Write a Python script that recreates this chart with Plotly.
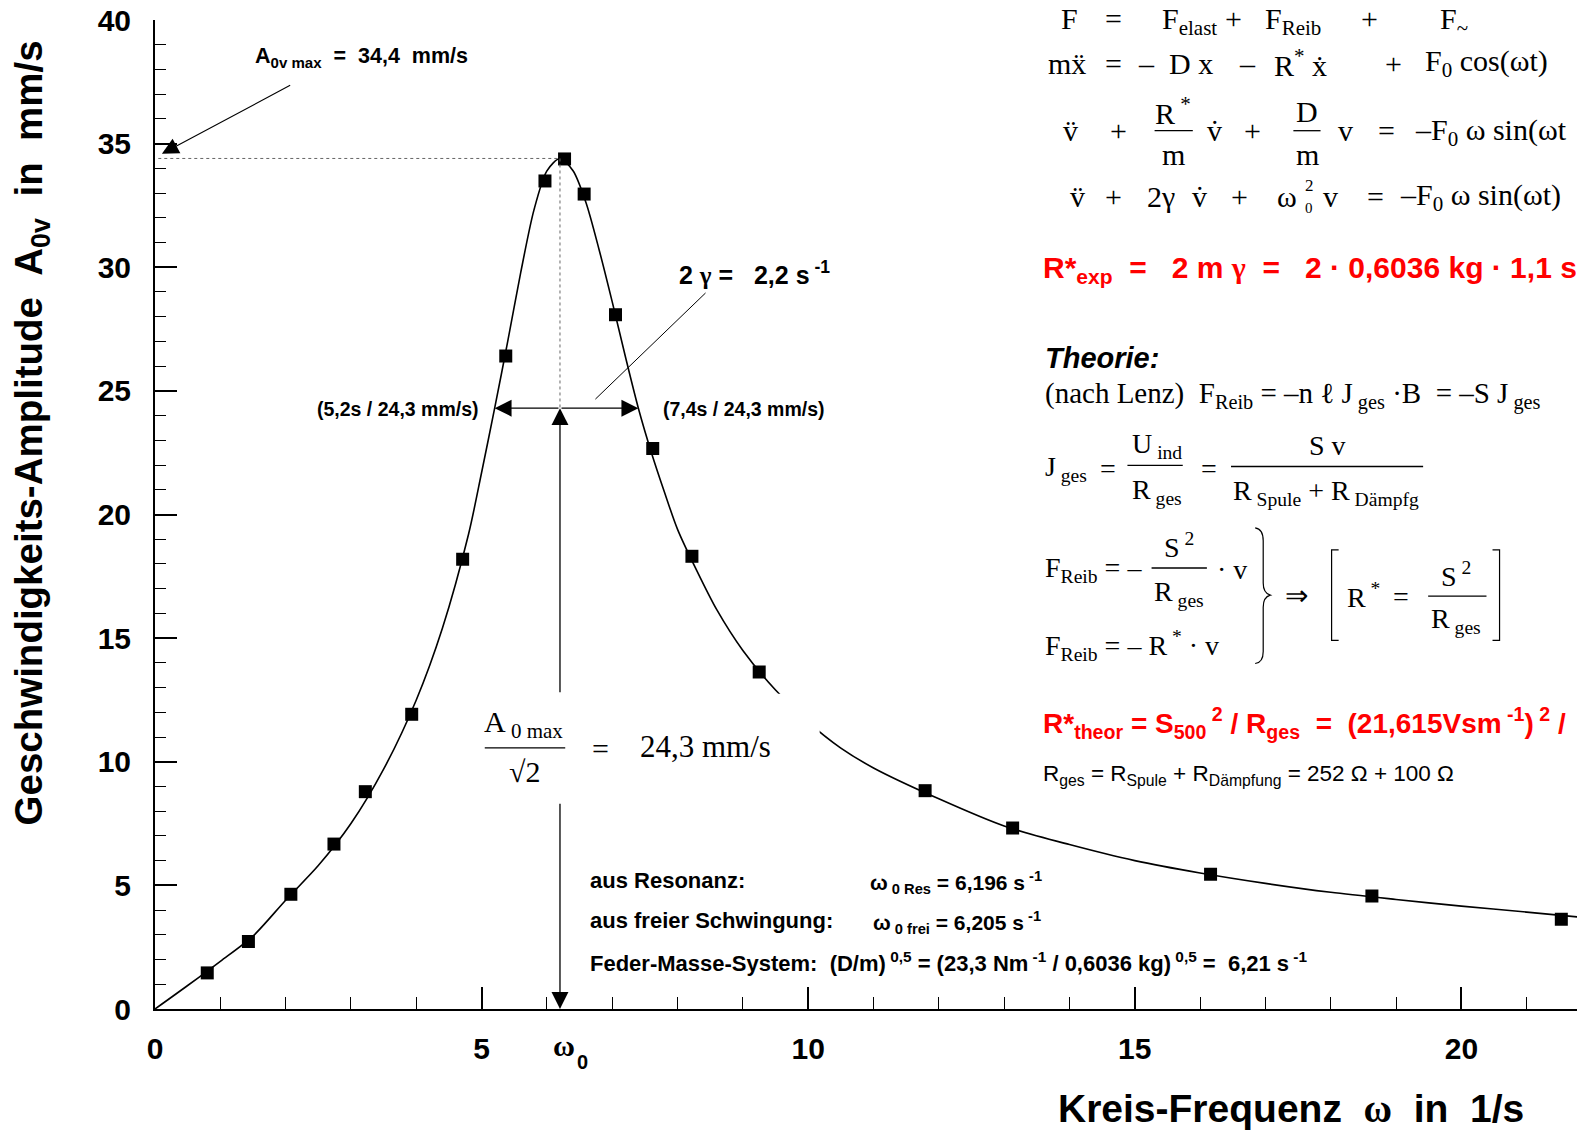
import plotly.graph_objects as go

# ---------------- data ----------------
omega_meas = [0.80, 1.43, 2.08, 2.74, 3.22, 3.93, 4.71, 5.37, 5.97, 6.27,
              6.57, 7.05, 7.62, 8.22, 9.25, 11.79, 13.13, 16.16, 18.63, 21.53]
A_meas = [1.46, 2.73, 4.64, 6.67, 8.79, 11.92, 18.19, 26.41, 33.49, 34.38,
          32.96, 28.08, 22.67, 18.31, 13.63, 8.83, 7.32, 5.45, 4.57, 3.63]

omega_fit = [0, 0.5, 1.0, 1.5, 2.0, 2.5, 3.0, 3.5, 4.0, 4.4, 4.8, 5.0, 5.2, 5.4,
             5.6, 5.8, 6.0, 6.2, 6.4, 6.6, 6.8, 7.0, 7.2, 7.4, 7.6, 7.8, 8.0,
             8.3, 8.6, 9.0, 9.5, 10.0, 10.5, 11.0, 12.0, 13.0, 14.0, 15.0, 16.0,
             17.0, 18.0, 19.0, 20.0, 21.0, 21.8]
A_fit = [0, 0.95, 1.93, 2.95, 4.4, 5.8, 7.5, 9.7, 12.5, 15.4, 19.2, 21.7, 24.3, 27.0,
         29.8, 32.3, 33.9, 34.4, 33.9, 32.6, 30.7, 28.6, 26.4, 24.3, 22.5, 20.9, 19.4,
         17.7, 16.15, 14.5, 12.9, 11.6, 10.55, 9.75, 8.5, 7.4, 6.65, 6.0, 5.5,
         5.08, 4.72, 4.43, 4.16, 3.92, 3.72]

omega0 = 6.2
A_max = 34.4
A_half = 24.3
omega_left, omega_right = 5.2, 7.4

x_major = 5
y_major = 5

# ---------------- geometry helpers ----------------
W_FIG, H_FIG = 1577, 1130
L, R, T, B = 155, 0, 20, 121
PW = W_FIG - L - R
PH = H_FIG - T - B
X_MAX = 21.77
Y_MAX = 40
SX = 1577 / 1568
SY = 1130 / 1124


def PX(dx):
    return (dx * SX - L) / PW


def PY(dy):
    return (H_FIG - B - dy * SY) / PH


def DX(dx):
    return PX(dx) * X_MAX


def DY(dy):
    return PY(dy) * Y_MAX


SANS = "Liberation Sans"
SERIF = "Liberation Serif"
NB = "\u00a0"
GAMMA = '<span style="font-family:Liberation Serif">γ</span>'

annotations = []
shapes = []


def txt(dx, dy, s, size, family=SANS, color="black", xanchor="left",
        bold=False, italic=False, textangle=0, yanchor="middle"):
    if bold:
        s = "<b>" + s + "</b>"
    if italic:
        s = "<i>" + s + "</i>"
    annotations.append(dict(x=PX(dx), y=PY(dy), xref="paper", yref="paper",
                            text=s, showarrow=False, xanchor=xanchor,
                            yanchor=yanchor, textangle=textangle,
                            font=dict(family=family, size=size, color=color)))


def bar(dx0, dx1, dy, width=1.3):
    shapes.append(dict(type="line", xref="paper", yref="paper",
                       x0=PX(dx0), x1=PX(dx1), y0=PY(dy), y1=PY(dy),
                       line=dict(color="black", width=width)))


def path(points, cmds, width=1.3):
    s = ""
    i = 0
    for c in cmds:
        if c in "ML":
            x, y = points[i]
            s += f"{c} {PX(x)},{PY(y)} "
            i += 1
        elif c == "Q":
            (x1, y1), (x2, y2) = points[i], points[i + 1]
            s += f"Q {PX(x1)},{PY(y1)} {PX(x2)},{PY(y2)} "
            i += 2
    shapes.append(dict(type="path", xref="paper", yref="paper", path=s.strip(),
                       line=dict(color="black", width=width)))


def arrow(x, y, ax, ay, head=2, width=1.3, size=2.6):
    annotations.append(dict(x=x, y=y, ax=ax, ay=ay, xref="x", yref="y",
                            axref="x", ayref="y", text="", showarrow=True,
                            arrowhead=head, arrowwidth=width, arrowsize=size,
                            arrowcolor="black", standoff=0, startstandoff=0))


# ---------------- figure ----------------
fig = go.Figure()
fig.add_trace(go.Scatter(x=omega_fit, y=A_fit, mode="lines",
                         line=dict(color="black", width=1.6, shape="spline", smoothing=0.8),
                         hoverinfo="skip", showlegend=False))
fig.add_trace(go.Scatter(x=omega_meas, y=A_meas, mode="markers",
                         marker=dict(symbol="square", size=13, color="black"),
                         showlegend=False))

# dotted guide lines
shapes.append(dict(type="line", xref="x", yref="y", x0=0.05, x1=omega0, y0=A_max, y1=A_max,
                   line=dict(color="#666666", width=1, dash="dot")))
shapes.append(dict(type="line", xref="x", yref="y", x0=omega0, x1=omega0, y0=A_max, y1=A_half,
                   line=dict(color="#666666", width=1, dash="dot")))
# white box behind the A0max/sqrt2 formula (hides the curve there)
shapes.append(dict(type="rect", xref="x", yref="y", x0=DX(470), x1=DX(815), y0=DY(798), y1=DY(690),
                   fillcolor="white", line=dict(width=0), layer="above"))

# arrows
arrow(omega_left, A_half, omega0, A_half)
arrow(omega_right, A_half, omega0, A_half)
arrow(omega0, A_half, omega0, DY(690))
arrow(omega0, 0, omega0, DY(798))
arrow(DX(161), DY(153), DX(290), DY(84), width=1.1, size=3.0)
arrow(DX(592), DY(397), DX(703), DY(290), head=0, width=1)

# ---- annotations in the plot ----
txt(252, 57, f"A<sub>0v max</sub>{NB}{NB}={NB}{NB}34,4{NB}{NB}mm/s", 21.5, bold=True)
txt(673, 272, f"2{NB}{GAMMA}{NB}={NB}{NB}{NB}2,2{NB}s<sup>{NB}-1</sup>", 25, bold=True)
txt(478, 407, "(5,2s / 24,3 mm/s)", 19.5, bold=True, xanchor="right")
txt(657, 407, "(7,4s / 24,3 mm/s)", 19.5, bold=True)

txt(521, 720, f"A<sub>{NB}0 max</sub>", 30, family=SERIF, xanchor="center")
bar(482, 562, 744)
txt(522, 767, "√2", 30, family=SERIF, xanchor="center")
txt(597, 745, "=", 30, family=SERIF, xanchor="center")
txt(634, 743, "24,3 mm/s", 31, family=SERIF)

txt(585, 876, "aus Resonanz:", 22, bold=True)
txt(863, 878, f"ω<sub>{NB}0 Res</sub> = 6,196 s<sup>{NB}-1</sup>", 21, bold=True)
txt(585, 916, "aus freier Schwingung:", 22, bold=True)
txt(866, 918, f"ω<sub>{NB}0 frei</sub> = 6,205 s<sup>{NB}-1</sup>", 21, bold=True)
txt(585, 957, f"Feder-Masse-System:{NB}{NB}(D/m)<sup>{NB}0,5</sup> = (23,3 Nm<sup>{NB}-1</sup> / 0,6036 kg)<sup>{NB}0,5</sup> ={NB}{NB}6,21 s<sup>{NB}-1</sup>", 22, bold=True)

# ---- equations top right ----
EQ = 30
for xx, s in [(1053, "F"), (1097, "="), (1153, "F<sub>elast</sub>"), (1216, "+"),
              (1256, "F<sub>Reib</sub>"), (1351, "+"), (1430, "F<sub>~</sub>")]:
    txt(xx, 0, s, EQ, family=SERIF, yanchor="top")

txt(1040, 63, "m\u1e8d", EQ, family=SERIF)
txt(1097, 63, "=", EQ, family=SERIF)
txt(1130, 63, f"–{NB}{NB}D{NB}x", EQ, family=SERIF)
txt(1230, 63, "–", EQ, family=SERIF)
txt(1265, 63, f"R<sup>*</sup>{NB}\u1e8b", EQ, family=SERIF)
txt(1375, 63, "+", EQ, family=SERIF)
txt(1415, 63, "F<sub>0</sub> cos(ωt)", EQ, family=SERIF)

txt(1055, 130, "v\u0308", EQ, family=SERIF)
txt(1102, 130, "+", EQ, family=SERIF)
txt(1166, 110, f"R<sup>{NB}*</sup>", EQ, family=SERIF, xanchor="center")
bar(1148, 1186, 130)
txt(1167, 154, "m", EQ, family=SERIF, xanchor="center")
txt(1198, 130, "v\u0307", EQ, family=SERIF)
txt(1235, 130, "+", EQ, family=SERIF)
txt(1300, 111, "D", EQ, family=SERIF, xanchor="center")
bar(1286, 1313, 130)
txt(1300, 154, "m", EQ, family=SERIF, xanchor="center")
txt(1328, 130, "v", EQ, family=SERIF)
txt(1368, 130, "=", EQ, family=SERIF)
txt(1405, 131, "–F<sub>0</sub> ω sin(ωt", EQ, family=SERIF)

txt(1062, 195, "v\u0308", EQ, family=SERIF)
txt(1097, 195, "+", EQ, family=SERIF)
txt(1138, 195, "2γ", EQ, family=SERIF)
txt(1183, 195, "v\u0307", EQ, family=SERIF)
txt(1222, 195, "+", EQ, family=SERIF)
txt(1268, 195, "ω", EQ, family=SERIF)
txt(1296, 185, "2", 17, family=SERIF)
txt(1296, 207, "0", 15, family=SERIF)
txt(1313, 195, "v", EQ, family=SERIF)
txt(1357, 195, "=", EQ, family=SERIF)
txt(1390, 196, "–F<sub>0</sub> ω sin(ωt)", EQ, family=SERIF)

txt(1035, 268, f"R*<sub>exp</sub>{NB}{NB}={NB}{NB}{NB}2 m {GAMMA}{NB}{NB}={NB}{NB}{NB}2 · 0,6036 kg · 1,1 s",
    30, bold=True, color="#ff0000")

txt(1037, 356, "Theorie:", 29, bold=True, italic=True)
txt(1037, 393, f"(nach Lenz){NB}{NB}F<sub>Reib</sub> = –n ℓ J<sub>{NB}ges</sub> ·B{NB}{NB}= –S J<sub>{NB}ges</sub>",
    29, family=SERIF)

txt(1037, 466, f"J<sub>{NB}ges</sub>", 28, family=SERIF)
txt(1092, 466, "=", 28, family=SERIF)
txt(1150, 443, f"U<sub>{NB}ind</sub>", 28, family=SERIF, xanchor="center")
bar(1121, 1176, 463)
txt(1150, 489, f"R<sub>{NB}ges</sub>", 28, family=SERIF, xanchor="center")
txt(1192, 466, "=", 28, family=SERIF)
txt(1320, 443, "S v", 28, family=SERIF, xanchor="center")
bar(1224, 1415, 464)
txt(1318, 490, f"R<sub>{NB}Spule</sub> + R<sub>{NB}Dämpfg</sub>", 28, family=SERIF, xanchor="center")

txt(1037, 566, "F<sub>Reib</sub> = –", 28, family=SERIF)
txt(1172, 543, f"S<sup>{NB}2</sup>", 28, family=SERIF, xanchor="center")
bar(1145, 1200, 565)
txt(1172, 590, f"R<sub>{NB}ges</sub>", 28, family=SERIF, xanchor="center")
txt(1208, 566, "· v", 28, family=SERIF)
txt(1037, 642, f"F<sub>Reib</sub> = – R<sup>{NB}*</sup> · v", 28, family=SERIF)

path([(1248, 525), (1256, 526), (1256, 538), (1256, 580), (1256, 590), (1263, 592),
      (1256, 594), (1256, 604), (1256, 648), (1256, 659), (1248, 660)],
     ["M", "Q", "L", "Q", "Q", "L", "Q"], width=1.2)
txt(1276, 592, "⇒", 28, family=SERIF)
path([(1331, 547), (1324, 547), (1324, 637), (1331, 637)], ["M", "L", "L", "L"], width=1.2)
txt(1337, 592, f"R<sup>{NB}*</sup>", 28, family=SERIF)
txt(1383, 593, "=", 28, family=SERIF)
txt(1448, 571, f"S<sup>{NB}2</sup>", 28, family=SERIF, xanchor="center")
bar(1420, 1478, 593)
txt(1448, 617, f"R<sub>{NB}ges</sub>", 28, family=SERIF, xanchor="center")
path([(1484, 547), (1491, 547), (1491, 637), (1484, 637)], ["M", "L", "L", "L"], width=1.2)

txt(1035, 719, f"R*<sub>theor</sub> = S<sub>500</sub><sup>{NB}2</sup> / R<sub>ges</sub>{NB}{NB}={NB}{NB}(21,615Vsm<sup>{NB}-1</sup>)<sup>{NB}2</sup> /",
    28, bold=True, color="#ff0000")
txt(1035, 771, "R<sub>ges</sub> = R<sub>Spule</sub> + R<sub>Dämpfung</sub> = 252 Ω + 100 Ω", 22.5)

# axis titles
txt(31, 431, f"Geschwindigkeits-Amplitude{NB}{NB}A<sub>0v</sub>{NB}{NB}in{NB}{NB}mm/s", 38.5,
    bold=True, xanchor="center", textangle=-90)
txt(1284, 1103, f"Kreis-Frequenz{NB}{NB}<span style=\"font-family:Liberation Serif\">ω</span>{NB}{NB}in{NB}{NB}1/s",
    39, bold=True, xanchor="center")
# omega_0 label on x axis
txt(561, 1040, "ω", 30, family=SERIF, bold=True, xanchor="center")
txt(579, 1056, "0", 20, bold=True, xanchor="center")

tickfont = dict(family=SANS, size=30, color="black", weight="bold")
fig.update_layout(
    width=W_FIG, height=H_FIG,
    margin=dict(l=L, r=R, t=T, b=B, autoexpand=False),
    paper_bgcolor="white", plot_bgcolor="white",
    showlegend=False,
    xaxis=dict(range=[0, X_MAX], showline=True, linewidth=2, linecolor="black",
               ticks="inside", ticklen=22, tickwidth=1.5, tickcolor="black",
               tick0=0, dtick=x_major, showgrid=False, zeroline=False,
               tickfont=tickfont, ticklabelstandoff=12,
               minor=dict(ticks="inside", ticklen=12, tickwidth=1.2, tickcolor="black",
                          dtick=1, showgrid=False)),
    yaxis=dict(range=[0, Y_MAX], showline=True, linewidth=2, linecolor="black",
               ticks="inside", ticklen=22, tickwidth=1.5, tickcolor="black",
               tick0=0, dtick=y_major, showgrid=False, zeroline=False,
               tickfont=tickfont, ticklabelstandoff=16,
               minor=dict(ticks="inside", ticklen=11, tickwidth=1.2, tickcolor="black",
                          dtick=1, showgrid=False)),
    annotations=annotations,
    shapes=shapes,
)

fig.write_html("out.html", config={"displayModeBar": False},
               post_script="document.body.style.margin='0';document.body.style.overflow='hidden';")
